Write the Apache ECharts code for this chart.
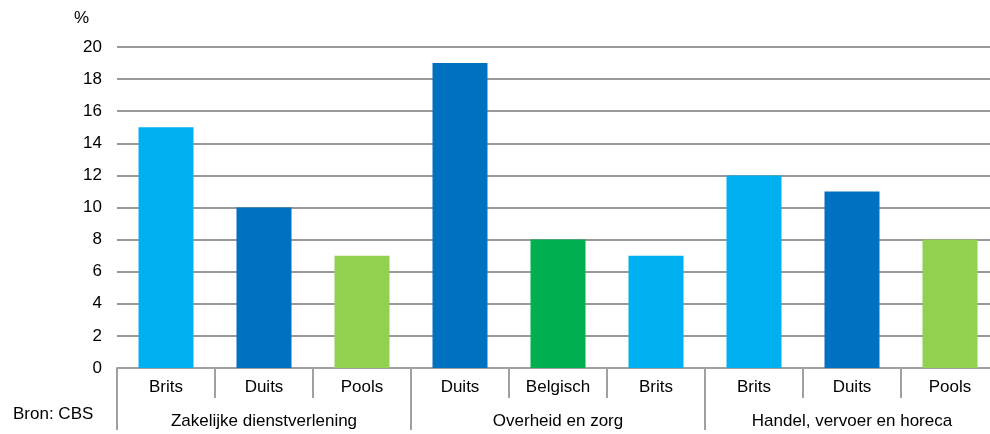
<!DOCTYPE html>
<html>
<head>
<meta charset="utf-8">
<script src="https://cdn.jsdelivr.net/npm/echarts@6/dist/echarts.min.js"></script>
<style>
  html, body { margin: 0; padding: 0; background: #fff; overflow: hidden; }
  /* the plot runs slightly past the right edge of the window */
  #chart { width: 999px; height: 434px; }
</style>
</head>
<body>
<div id="chart"></div>
<script>
// Share of workers per nationality, by sector (%)
const nationalities = ['Brits', 'Duits', 'Pools', 'Duits', 'Belgisch', 'Brits', 'Brits', 'Duits', 'Pools'];
const sectors = ['Zakelijke dienstverlening', 'Overheid en zorg', 'Handel, vervoer en horeca'];
const values = [15, 10, 7, 19, 8, 7, 12, 11, 8];
const yTicks = [0, 2, 4, 6, 8, 10, 12, 14, 16, 18, 20];

const colorByNationality = {
  'Brits': '#00b0f0',
  'Duits': '#0070c0',
  'Pools': '#92d050',
  'Belgisch': '#00b050'
};

const font = 'Liberation Sans, Arial, sans-serif';
const fontSize = 17;
const axisGray = '#a0a0a0';

const chart = echarts.init(document.getElementById('chart'), null, { renderer: 'canvas' });

chart.setOption({
  animation: false,
  grid: { left: 117, top: 47, right: 0, bottom: 66, containLabel: false },
  xAxis: [
    {
      type: 'category',
      data: nationalities,
      position: 'bottom',
      axisLine: { show: true, lineStyle: { color: axisGray, width: 2 } },
      axisTick: { show: true, length: 30, lineStyle: { color: axisGray, width: 2 } },
      axisLabel: { margin: 11, color: '#000', fontSize: fontSize, fontFamily: font, interval: 0 },
      splitLine: { show: false }
    },
    {
      type: 'category',
      data: sectors,
      position: 'bottom',
      axisLine: { show: false },
      axisTick: { show: true, length: 62, lineStyle: { color: axisGray, width: 2 } },
      axisLabel: { margin: 45, color: '#000', fontSize: fontSize, fontFamily: font, interval: 0 },
      splitLine: { show: false }
    }
  ],
  yAxis: {
    type: 'value',
    min: yTicks[0],
    max: yTicks[yTicks.length - 1],
    interval: 2,
    axisLine: { show: false },
    axisTick: { show: false },
    axisLabel: { margin: 15, color: '#000', fontSize: fontSize, fontFamily: font },
    splitLine: { lineStyle: { color: '#999999', width: 2 } }
  },
  series: [{
    type: 'bar',
    xAxisIndex: 0,
    barWidth: 55,
    data: values.map((v, i) => ({
      value: v,
      itemStyle: { color: colorByNationality[nationalities[i]] }
    }))
  }],
  graphic: [
    {
      type: 'text',
      left: 74,
      top: 10,
      style: { text: '%', fontSize: fontSize, fontFamily: font, fill: '#000' }
    },
    {
      type: 'text',
      left: 13,
      top: 406,
      style: { text: 'Bron: CBS', fontSize: fontSize, fontFamily: font, fill: '#000' }
    }
  ]
});
</script>
</body>
</html>
